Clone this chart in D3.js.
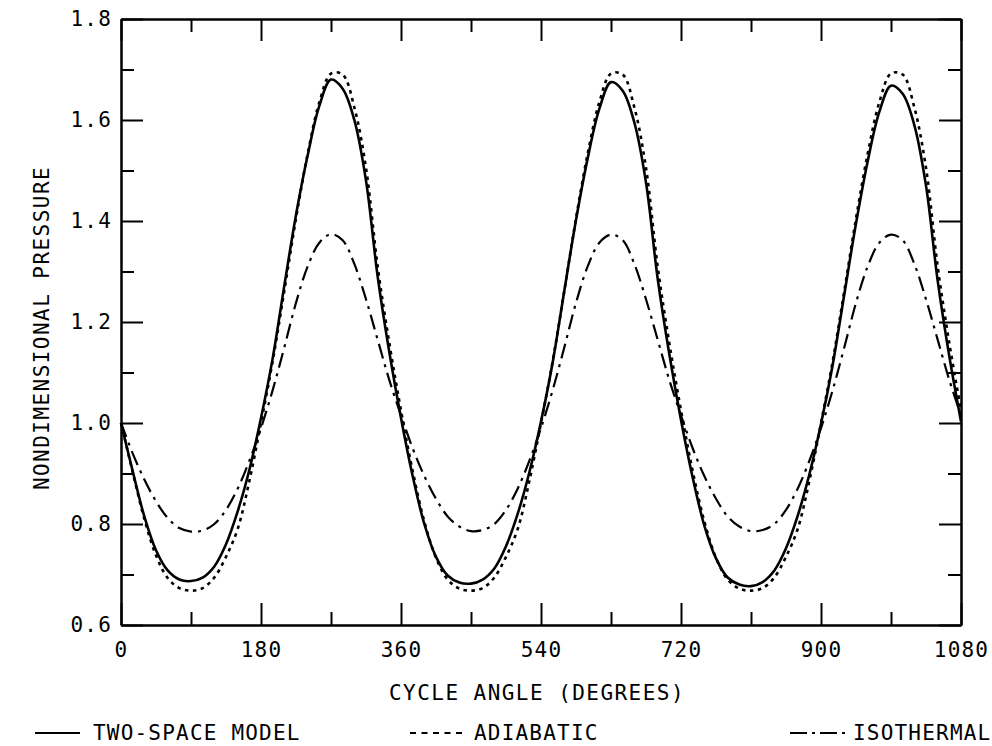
<!DOCTYPE html>
<html><head><meta charset="utf-8">
<script src="https://cdn.jsdelivr.net/npm/d3@7"></script>
<style>
body{margin:0;background:#fff}
svg text{font-family:"DejaVu Sans Mono",monospace;font-size:21px;fill:#000;letter-spacing:1.2px}
svg text.title{letter-spacing:1.45px}
</style></head><body>
<svg id="c" width="992" height="746"></svg>
<script>
const angles=[0,15,30,45,60,75,90,105,120,135,150,165,180,195,210,225,240,255,270,285,300,315,330,345,360,
375,390,405,420,435,450,465,480,495,510,525,540,555,570,585,600,615,630,645,660,675,690,705,720,
735,750,765,780,795,810,825,840,855,870,885,900,915,930,945,960,975,990,1005,1020,1035,1050,1065,1080];
const twoSpace=[1.000,0.905,0.815,0.748,0.708,0.690,0.687,0.694,0.716,0.760,0.825,0.907,1.010,1.128,1.272,1.412,1.530,1.628,1.680,1.662,1.600,1.480,1.290,1.140,1.010,
0.895,0.800,0.735,0.698,0.684,0.682,0.690,0.712,0.756,0.820,0.902,1.003,1.120,1.262,1.402,1.524,1.622,1.675,1.658,1.595,1.476,1.286,1.136,1.006,
0.892,0.797,0.732,0.694,0.680,0.677,0.685,0.708,0.752,0.816,0.898,0.998,1.115,1.255,1.395,1.518,1.616,1.668,1.652,1.590,1.470,1.282,1.132,1.003];
const adiabatic=[1.000,0.903,0.810,0.738,0.693,0.673,0.668,0.673,0.694,0.735,0.790,0.885,1.000,1.122,1.262,1.405,1.533,1.635,1.692,1.690,1.625,1.505,1.310,1.158,1.025,
0.905,0.805,0.733,0.690,0.672,0.668,0.673,0.694,0.735,0.790,0.885,1.000,1.122,1.262,1.405,1.533,1.635,1.692,1.690,1.625,1.505,1.310,1.158,1.025,
0.905,0.805,0.733,0.690,0.672,0.668,0.673,0.694,0.735,0.790,0.885,1.000,1.122,1.262,1.405,1.533,1.635,1.692,1.690,1.625,1.505,1.310,1.158,1.025];
const isothermal=[1.000,0.940,0.888,0.845,0.812,0.792,0.785,0.787,0.800,0.828,0.870,0.925,0.990,1.065,1.150,1.238,1.310,1.357,1.374,1.362,1.315,1.245,1.165,1.085,1.015,
0.950,0.895,0.850,0.815,0.795,0.786,0.788,0.800,0.828,0.870,0.925,0.990,1.065,1.150,1.238,1.310,1.357,1.373,1.362,1.315,1.245,1.165,1.085,1.015,
0.950,0.895,0.850,0.815,0.795,0.786,0.788,0.800,0.828,0.870,0.925,0.990,1.065,1.150,1.238,1.310,1.357,1.373,1.362,1.315,1.245,1.165,1.085,1.015];
const xMajorTicks=[0,180,360,540,720,900,1080];
const xMinorTicks=[90,270,450,630,810,990];
const yMajorTicks=[0.6,0.8,1.0,1.2,1.4,1.6,1.8];
const yMinorTicks=[0.7,0.9,1.1,1.3,1.5,1.7];
const seriesNames=["TWO-SPACE MODEL","ADIABATIC","ISOTHERMAL"];
const xTitle="CYCLE ANGLE (DEGREES)";
const yTitle="NONDIMENSIONAL PRESSURE";

const L=121,R=961,T=19,B=625;
const svg=d3.select("#c");
const x=d3.scaleLinear().domain([0,1080]).range([L,R]);
const y=d3.scaleLinear().domain([0.6,1.8]).range([B,T]);

function styleAxis(g){
  g.select(".domain").attr("stroke","#000").attr("stroke-width",2);
  g.selectAll(".tick line").attr("stroke","#000").attr("stroke-width",2);
  g.selectAll("text").attr("font-family",null).attr("font-size",null).attr("fill","#000");
}
// bottom
svg.append("g").attr("transform",`translate(0,${B})`)
  .call(d3.axisBottom(x).tickValues(xMajorTicks).tickSizeInner(-22).tickSizeOuter(0).tickPadding(17).tickFormat(d3.format("d")))
  .call(styleAxis);
svg.append("g").attr("transform",`translate(0,${B})`)
  .call(d3.axisBottom(x).tickValues(xMinorTicks).tickSizeInner(-13).tickSizeOuter(0).tickFormat(""))
  .call(styleAxis);
// top
svg.append("g").attr("transform",`translate(0,${T})`)
  .call(d3.axisTop(x).tickValues(xMajorTicks).tickSizeInner(-22).tickSizeOuter(0).tickFormat(""))
  .call(styleAxis);
svg.append("g").attr("transform",`translate(0,${T})`)
  .call(d3.axisTop(x).tickValues(xMinorTicks).tickSizeInner(-13).tickSizeOuter(0).tickFormat(""))
  .call(styleAxis);
// left
svg.append("g").attr("transform",`translate(${L},0)`)
  .call(d3.axisLeft(y).tickValues(yMajorTicks).tickSizeInner(-22).tickSizeOuter(0).tickPadding(9).tickFormat(d3.format(".1f")))
  .call(styleAxis);
svg.append("g").attr("transform",`translate(${L},0)`)
  .call(d3.axisLeft(y).tickValues(yMinorTicks).tickSizeInner(-13).tickSizeOuter(0).tickFormat(""))
  .call(styleAxis);
// right
svg.append("g").attr("transform",`translate(${R},0)`)
  .call(d3.axisRight(y).tickValues(yMajorTicks).tickSizeInner(-22).tickSizeOuter(0).tickFormat(""))
  .call(styleAxis);
svg.append("g").attr("transform",`translate(${R},0)`)
  .call(d3.axisRight(y).tickValues(yMinorTicks).tickSizeInner(-13).tickSizeOuter(0).tickFormat(""))
  .call(styleAxis);

const styles=[
  {vals:twoSpace,dash:null,w:2.6,legendDash:null},
  {vals:adiabatic,dash:"3.5,4.5",w:2.6,legendDash:"6,5.5"},
  {vals:isothermal,dash:"15,6,3,6",w:2.2,legendDash:"17,5,3,5"}
];
const line=d3.line().x(d=>x(d[0])).y(d=>y(d[1])).curve(d3.curveCatmullRom.alpha(0.5));
styles.forEach(s=>{
  svg.append("path").datum(angles.map((a,i)=>[a,s.vals[i]]))
    .attr("d",line).attr("fill","none").attr("stroke","#000")
    .attr("stroke-width",s.w).attr("stroke-dasharray",s.dash).attr("stroke-linejoin","round");
});

// titles
svg.append("text").attr("class","title").attr("x",(L+R)/2-4).attr("y",693).attr("text-anchor","middle")
  .attr("dominant-baseline","central").text(xTitle);
svg.append("text").attr("class","title").attr("transform",`translate(42,328) rotate(-90)`).attr("text-anchor","middle")
  .attr("dominant-baseline","central").text(yTitle);

// legend
const legendX=[{x1:35,x2:80,tx:93},{x1:410,x2:467,tx:474},{x1:790,x2:845,tx:853}];
const ly=733;
styles.forEach((s,i)=>{
  const p=legendX[i];
  svg.append("line").attr("x1",p.x1).attr("x2",p.x2).attr("y1",ly).attr("y2",ly)
    .attr("stroke","#000").attr("stroke-width",2).attr("stroke-dasharray",s.legendDash);
  svg.append("text").attr("x",p.tx).attr("y",ly).attr("dominant-baseline","central").text(seriesNames[i]);
});
</script>
</body></html>
